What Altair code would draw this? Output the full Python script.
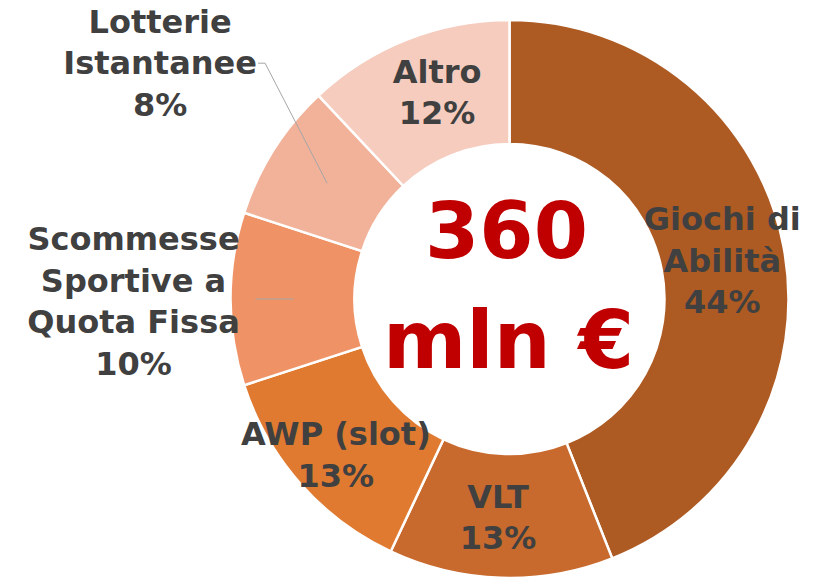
import math
import altair as alt
import pandas as pd

# ---- data ----
categories = ["Giochi di Abilità", "VLT", "AWP (slot)",
              "Scommesse Sportive a Quota Fissa", "Lotterie Istantanee", "Altro"]
shares = [44, 13, 13, 10, 8, 12]
label_names = [["Giochi di", "Abilità"], ["VLT"], ["AWP (slot)"],
               ["Scommesse", "Sportive a", "Quota Fissa"], ["Lotterie", "Istantanee"], ["Altro"]]
total_value = "360"
total_unit = "mln €"

# ---- style / layout ----
colors = ["#AE5A23", "#C86A2D", "#E07A31", "#EF9367", "#F2B29A", "#F5CCBE"]
W, H = 812, 570
CX, CY = 501.5, 291.0
R_IN, R_OUT = 155, 279
label_r = [216, 220, 234, 376, 421, 218]
label_dtheta = [0.9, 1.2, -0.7, -0.5, 1.5, 2.2]
LINE_H = 41.5
LABEL_COLOR = "#404040"
FONT = "DejaVu Sans"


def polar(r, deg):
    a = math.radians(deg)
    return CX + r * math.sin(a), CY - r * math.cos(a)


def to_polar(x, y):
    dx, dy = x - CX, y - CY
    return math.hypot(dx, dy), math.atan2(dx, -dy)


cum = 0.0
rows = []
for i, (c, s) in enumerate(zip(categories, shares)):
    mid = (cum + s / 2) / sum(shares) * 360
    cum += s
    lines_ = label_names[i] + [f"{s}%"]
    # block centre, then move anchor to the first line
    bx, by = polar(label_r[i], mid + label_dtheta[i])
    fy = by - (len(lines_) - 1) / 2 * LINE_H
    r_first, th_first = to_polar(bx, fy)
    rows.append({
        "category": c, "share": s, "order": i,
        "label": "\n".join(lines_),
        "mid_deg": mid,
        "bx": bx, "by": by,
        "label_theta": th_first,
        "label_r": r_first,
    })
df = pd.DataFrame(rows)

arcs = alt.Chart(df).mark_arc(
    innerRadius=R_IN, outerRadius=R_OUT, stroke="white", strokeWidth=2.5
).encode(
    theta=alt.Theta("share:Q", stack=True),
    order=alt.Order("order:Q"),
    color=alt.Color("category:N", scale=alt.Scale(domain=categories, range=colors), legend=None),
    x=alt.value(CX), y=alt.value(CY),
)

labels = alt.Chart(df).mark_text(
    font=FONT, fontSize=32, fontWeight="bold", color=LABEL_COLOR,
    align="center", baseline="middle", lineBreak="\n", lineHeight=LINE_H
).encode(
    theta=alt.Theta("label_theta:Q", scale=None),
    radius=alt.Radius("label_r:Q", scale=None),
    text="label:N",
    x=alt.value(CX), y=alt.value(CY),
)

# leader lines (derived from slice mid-angles and label block centres)
lot = df.iloc[4]
p_in = polar(216, lot.mid_deg)
elbow = (lot.bx + 105, lot.by - 1)
end = (lot.bx + 98, lot.by - 1)
sco = df.iloc[3]
s_in = polar(216, sco.mid_deg)
s_out = polar(254, sco.mid_deg)
leaders = pd.DataFrame([
    {"x": p_in[0], "y": p_in[1], "x2": elbow[0], "y2": elbow[1]},
    {"x": elbow[0], "y": elbow[1], "x2": end[0], "y2": end[1]},
    {"x": s_in[0], "y": s_in[1], "x2": s_out[0], "y2": s_out[1]},
])
lines = alt.Chart(leaders).mark_rule(color="#A6A6A6", strokeWidth=1).encode(
    x=alt.X("x:Q", scale=None), y=alt.Y("y:Q", scale=None),
    x2="x2:Q", y2="y2:Q",
)

center_df = pd.DataFrame({"t": [total_value, total_unit]})
center1 = alt.Chart(center_df.iloc[[0]]).mark_text(
    font=FONT, fontSize=78, fontWeight="bold", color="#C00000",
    align="center", baseline="alphabetic", dy=-41
).encode(text="t:N", x=alt.value(CX - 3), y=alt.value(CY))
center2 = alt.Chart(center_df.iloc[[1]]).mark_text(
    font=FONT, fontSize=80, fontWeight="bold", color="#C00000",
    align="center", baseline="alphabetic", dy=69
).encode(text="t:N", x=alt.value(CX - 1), y=alt.value(CY))

chart = alt.layer(arcs, lines, labels, center1, center2).properties(
    width=W, height=H, autosize="none", padding=0
).configure_view(stroke=None)

chart.save("out.html", embed_options={"renderer": "svg", "actions": False})
